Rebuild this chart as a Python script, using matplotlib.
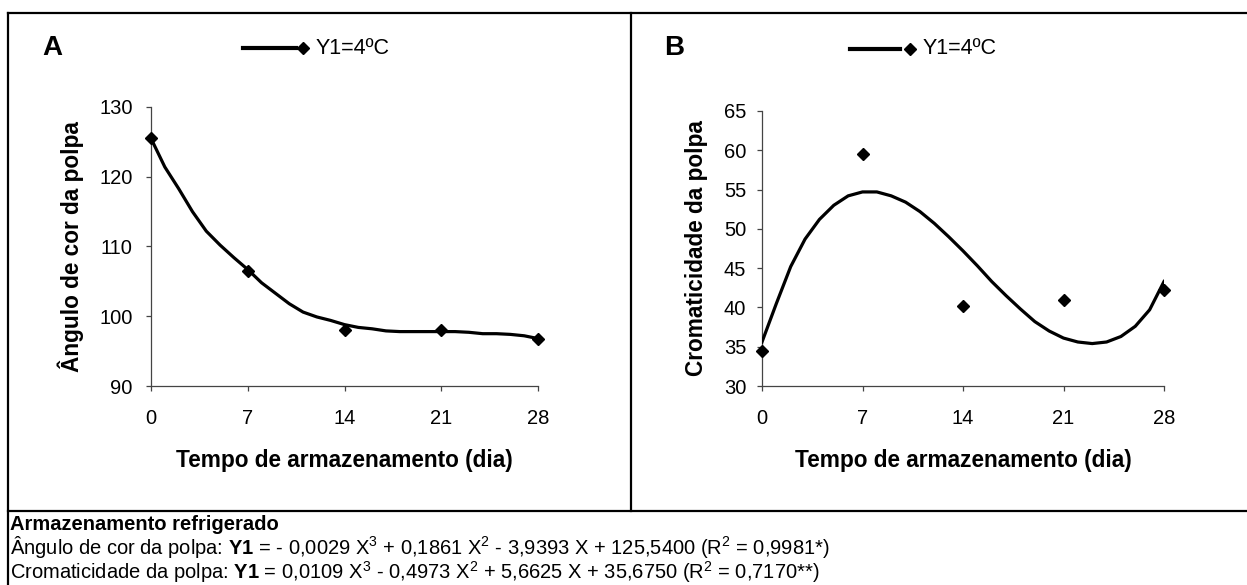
import matplotlib
matplotlib.use("Agg")
import matplotlib.pyplot as plt
from matplotlib.lines import Line2D

FONT = ['Liberation Sans', 'DejaVu Sans']
plt.rcParams['font.family'] = FONT
plt.rcParams['mathtext.fontset'] = 'custom'
plt.rcParams['mathtext.rm'] = 'Liberation Sans'
plt.rcParams['mathtext.bf'] = 'Liberation Sans:bold'
plt.rcParams['mathtext.default'] = 'regular'

# ---------------- data ----------------
days_obs = [0, 7, 14, 21, 28]
angle_obs = [125.5, 106.5, 98.1, 98.1, 96.7]
chroma_obs = [34.4, 59.5, 40.2, 41.0, 42.2]

days_curve = list(range(0, 29))
angle_curve = [125.5, 121.4, 118.3, 115.0, 112.2, 110.2, 108.4, 106.7, 104.8, 103.3,
               101.8, 100.6, 99.9, 99.4, 98.8, 98.4, 98.2, 97.9, 97.8, 97.8,
               97.8, 97.8, 97.8, 97.7, 97.5, 97.5, 97.4, 97.2, 96.8]
chroma_curve = [35.6, 40.5, 45.2, 48.7, 51.2, 53.0, 54.2, 54.7, 54.7, 54.2,
                53.4, 52.2, 50.7, 49.0, 47.2, 45.3, 43.3, 41.5, 39.8, 38.2,
                37.0, 36.1, 35.6, 35.4, 35.6, 36.3, 37.6, 39.7, 43.3]

xticks = [0, 7, 14, 21, 28]
angle_yticks = [90, 100, 110, 120, 130]
chroma_yticks = [30, 35, 40, 45, 50, 55, 60, 65]

xlabel = "Tempo de armazenamento (dia)"
ylabel_a = "Ângulo de cor da polpa"
ylabel_b = "Cromaticidade da polpa"
legend_label = "Y1=4ºC"

W, H = 1247, 585
fig = plt.figure(figsize=(W / 100, H / 100), dpi=100)

def fx(px):
    return px / W

def fy(py):
    return 1 - py / H

# frame lines
lw_frame = 1.6
fig.add_artist(Line2D([fx(8), 1], [fy(13), fy(13)], color='black', lw=lw_frame))
fig.add_artist(Line2D([fx(8), fx(8)], [0, fy(13)], color='black', lw=lw_frame))
fig.add_artist(Line2D([fx(8), 1], [fy(511), fy(511)], color='black', lw=lw_frame))
fig.add_artist(Line2D([fx(631), fx(631)], [fy(511), fy(13)], color='black', lw=lw_frame))

TICK_FS = 14.5
LABEL_FS = 16.3

def make_axes(left, right, top, bottom, ycurve, yobs, yticks, ylabel, ylab_x, ypad):
    ax = fig.add_axes([fx(left), fy(bottom), fx(right) - fx(left), fy(top) - fy(bottom)])
    ax.plot(days_curve, ycurve, color='black', lw=2.3, solid_joinstyle='round', zorder=3)
    ax.plot(days_obs, yobs, linestyle='none', marker='D', ms=6.4, color='black', zorder=4,
            clip_on=False)
    ax.set_xlim(0, 28)
    ax.set_ylim(yticks[0], yticks[-1])
    ax.set_xticks(xticks)
    ax.set_yticks(yticks)
    for s in ['top', 'right']:
        ax.spines[s].set_visible(False)
    for s in ['left', 'bottom']:
        ax.spines[s].set_linewidth(0.9)
        ax.spines[s].set_color('#444444')
    ax.tick_params(direction='out', length=3.8, width=0.9, color='#444444',
                   labelsize=TICK_FS)
    ax.tick_params(axis='x', pad=12.5)
    ax.tick_params(axis='y', pad=ypad)
    ax.set_xlabel(xlabel, fontsize=LABEL_FS, fontweight='bold', va='center')
    ax.xaxis.set_label_coords(0.5, -(460 - bottom) / (bottom - top))
    ax.set_ylabel(ylabel, fontsize=LABEL_FS, fontweight='bold', va='center')
    ax.yaxis.set_label_coords((ylab_x - left) / (right - left), 0.5)
    return ax

axA = make_axes(151, 538, 107, 386, angle_curve, angle_obs, angle_yticks, ylabel_a, 71, 9.5)
axB = make_axes(762, 1164, 111, 386, chroma_curve, chroma_obs, chroma_yticks, ylabel_b, 696, 7.5)

# panel letters
fig.text(fx(42), fy(48), "A", fontsize=20, fontweight='bold', va='center', ha='left')
fig.text(fx(664), fy(48), "B", fontsize=20, fontweight='bold', va='center', ha='left')

# manual legends
def legend(x0, x1, xm, xt, y):
    fig.add_artist(Line2D([fx(x0), fx(x1)], [fy(y), fy(y)], color='black', lw=3))
    fig.add_artist(Line2D([fx(xm)], [fy(y)], marker='D', ms=6.4, color='black',
                          linestyle='none'))
    fig.text(fx(xt), fy(y), legend_label, fontsize=15.5, va='center', ha='left')

legend(243, 296, 303, 316, 48)
legend(850, 900, 910, 923, 49)

# equations
EQ_FS = 14.5
fig.text(fx(10), fy(530), "Armazenamento refrigerado", fontsize=EQ_FS, fontweight='bold',
         va='baseline', ha='left')
fig.text(fx(10), fy(554.5),
         r"Ângulo de cor da polpa: $\mathbf{Y1}$ = - 0,0029 X$^3$ + 0,1861 X$^2$ - 3,9393 X + 125,5400 (R$^2$ = 0,9981*)",
         fontsize=EQ_FS, va='baseline', ha='left')
fig.text(fx(10), fy(579),
         r"Cromaticidade da polpa: $\mathbf{Y1}$ = 0,0109 X$^3$ - 0,4973 X$^2$ + 5,6625 X + 35,6750 (R$^2$ = 0,7170**)",
         fontsize=EQ_FS, va='baseline', ha='left')

fig.savefig("out.png", dpi=100)
